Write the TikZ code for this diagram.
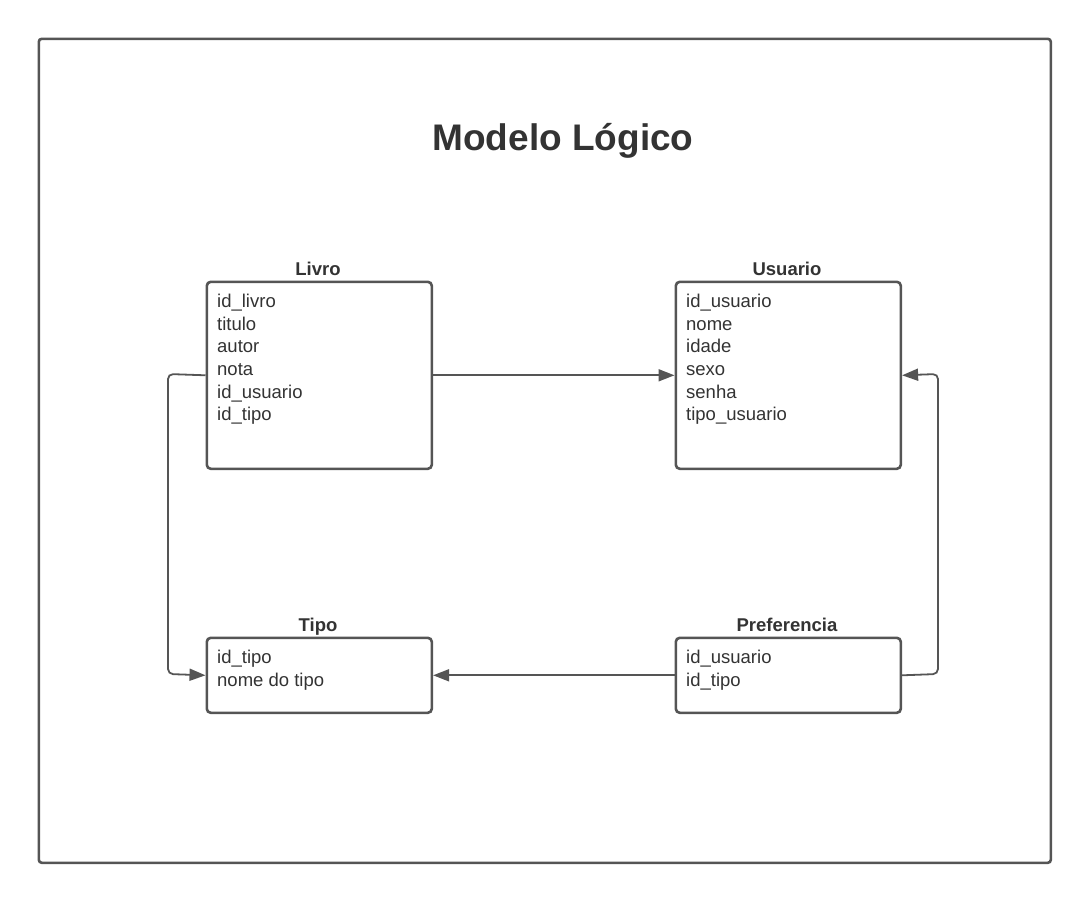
\documentclass[tikz,border=0pt]{standalone}
\usepackage{fontspec}
\setmainfont{Liberation Sans}
\usetikzlibrary{arrows.meta}
\definecolor{frame}{HTML}{555555}
\definecolor{ink}{HTML}{333333}
\tikzset{
  entity/.style={draw=frame, line width=2.6pt, rounded corners=4pt, fill=white, inner sep=0pt, anchor=north west},
  fields/.style={anchor=north west, align=left, inner sep=0pt, text=ink, font=\fontsize{18.5}{22.6}\selectfont},
  etitle/.style={anchor=base, inner sep=0pt, text=ink, font=\fontsize{18.5}{22}\selectfont\bfseries},
  link/.style={draw=frame, line width=1.8pt, rounded corners=5pt, -{Triangle[length=16pt,width=12pt]}},
}
\begin{document}
\begin{tikzpicture}[x=1pt,y=-1pt]
\useasboundingbox (0,0) rectangle (1087,900);
\node[draw=frame, line width=2.6pt, rounded corners=3pt, minimum width=1012pt, minimum height=824pt, anchor=north west, inner sep=0pt] (frame) at (37.5,37.5) {};
\node[anchor=base, inner sep=0pt, text=ink, font=\fontsize{37}{42}\selectfont\bfseries] (title) at (563,150) {Modelo Lógico};

\node[entity, minimum width=225pt, minimum height=187pt] (livro) at (205.5,280.5) {};
\node[entity, minimum width=225pt, minimum height=187pt] (usuario) at (674.5,280.5) {};
\node[entity, minimum width=225pt, minimum height=75pt] (tipo) at (205.5,636.5) {};
\node[entity, minimum width=225pt, minimum height=75pt] (pref) at (674.5,636.5) {};

\node[etitle] (tlivro) at (318,275) {Livro};
\node[etitle] (tusuario) at (787,275) {Usuario};
\node[etitle] (ttipo) at (318,631) {Tipo};
\node[etitle] (tpref) at (787,631) {Preferencia};

\node[fields] (flivro) at (217,294) {id\_livro\\titulo\\autor\\nota\\id\_usuario\\id\_tipo};
\node[fields] (fusuario) at (686,294) {id\_usuario\\nome\\idade\\sexo\\senha\\tipo\_usuario};
\node[fields] (ftipo) at (217,650) {id\_tipo\\nome do tipo};
\node[fields] (fpref) at (686,650) {id\_usuario\\id\_tipo};

\coordinate (a1) at (168,374);
\coordinate (a2) at (168,674);
\coordinate (b1) at (938,674);
\coordinate (b2) at (938,374);

\draw[link] (livro.east) -- (usuario.west);
\draw[link] (livro.west) -- (a1) -- (a2) -- (tipo.west);
\draw[link] (pref.west) -- (tipo.east);
\draw[link] (pref.east) -- (b1) -- (b2) -- (usuario.east);
\end{tikzpicture}
\end{document}
